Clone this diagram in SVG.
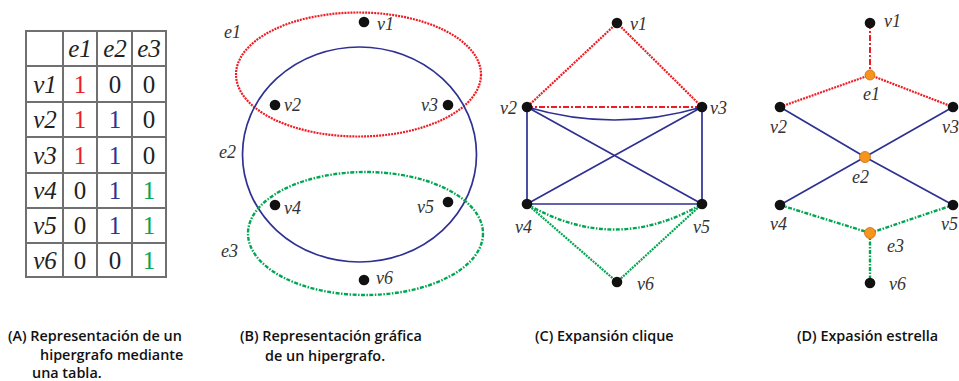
<svg xmlns="http://www.w3.org/2000/svg" width="959" height="381" viewBox="0 0 959 381">
<style>
.tbl{fill:none;stroke:#707070;stroke-width:2}
.lab{font-family:"Liberation Serif",serif;font-style:italic;font-size:18px;fill:#333}
.tl{font-family:"Liberation Serif",serif;font-style:italic;font-size:25px;fill:#222;text-anchor:middle}
.tn{font-family:"Liberation Serif",serif;font-size:25px;fill:#222;text-anchor:middle}
.cap{font-family:"Open Sans",sans-serif;font-weight:600;font-size:14.4px;fill:#111}
.red{fill:none;stroke:#ee1c24;stroke-width:2.2;stroke-dasharray:2 1}
.redd{fill:none;stroke:#ee1c24;stroke-width:2;stroke-dasharray:6 2 2 2}
.blue{fill:none;stroke:#2e3192;stroke-width:1.7}
.grn{fill:none;stroke:#00a651;stroke-width:2.4;stroke-dasharray:4 1.5 1.5 1.5}
.grnd{fill:none;stroke:#00a651;stroke-width:2.2;stroke-dasharray:2 1}
.v{fill:#111}
.e{fill:#f7941d;stroke:#c87010;stroke-width:0.8}
</style>

<g id="table">
<rect class="tbl" x="26" y="31" width="140" height="246"/>
<path class="tbl" d="M63 31V277M97 31V277M132 31V277M26 66H166M26 102H166M26 137H166M26 173H166M26 208H166M26 243H166"/>
<text class="tl" x="80" y="57">e1</text><text class="tl" x="115" y="57">e2</text><text class="tl" x="149" y="57">e3</text>
<text class="tl" x="45" y="93">v1</text><text class="tl" x="45" y="128">v2</text><text class="tl" x="45" y="164">v3</text>
<text class="tl" x="45" y="199">v4</text><text class="tl" x="45" y="234">v5</text><text class="tl" x="45" y="269">v6</text>
<text class="tn" x="80" y="93" style="fill:#ee1c24">1</text><text class="tn" x="115" y="93">0</text><text class="tn" x="149" y="93">0</text>
<text class="tn" x="80" y="128" style="fill:#ee1c24">1</text><text class="tn" x="115" y="128" style="fill:#2e3192">1</text><text class="tn" x="149" y="128">0</text>
<text class="tn" x="80" y="164" style="fill:#ee1c24">1</text><text class="tn" x="115" y="164" style="fill:#2e3192">1</text><text class="tn" x="149" y="164">0</text>
<text class="tn" x="80" y="199">0</text><text class="tn" x="115" y="199" style="fill:#2e3192">1</text><text class="tn" x="149" y="199" style="fill:#00a651">1</text>
<text class="tn" x="80" y="234">0</text><text class="tn" x="115" y="234" style="fill:#2e3192">1</text><text class="tn" x="149" y="234" style="fill:#00a651">1</text>
<text class="tn" x="80" y="269">0</text><text class="tn" x="115" y="269">0</text><text class="tn" x="149" y="269" style="fill:#00a651">1</text>
</g>

<g id="panelB">
<g id="B-edges">
<ellipse class="red" cx="358.5" cy="74.5" rx="122.5" ry="62"/>
<ellipse class="blue" cx="359.5" cy="154.5" rx="117" ry="107.5"/>
<ellipse class="grn" cx="365.5" cy="233.5" rx="117.5" ry="61.5"/>
<text class="lab" x="224" y="38">e1</text>
<text class="lab" x="219" y="158">e2</text>
<text class="lab" x="221" y="257">e3</text>
</g>
<g id="B-v1"><circle class="v" cx="364" cy="22" r="5.3"/><text class="lab" x="377" y="30">v1</text></g>
<g id="B-v2"><circle class="v" cx="275" cy="105" r="5.3"/><text class="lab" x="284" y="111">v2</text></g>
<g id="B-v3"><circle class="v" cx="448" cy="105" r="5.3"/><text class="lab" x="421" y="111">v3</text></g>
<g id="B-v4"><circle class="v" cx="275" cy="205" r="5.3"/><text class="lab" x="284" y="214">v4</text></g>
<g id="B-v5"><circle class="v" cx="448" cy="202" r="5.3"/><text class="lab" x="417" y="213">v5</text></g>
<g id="B-v6"><circle class="v" cx="364" cy="280" r="5.3"/><text class="lab" x="376" y="284">v6</text></g>
</g>

<g id="C-edges">
<path class="red" d="M617 23L527 107M617 23L702 107"/>
<path class="redd" d="M527 107H702"/>
<path class="blue" d="M527 107Q614.5 133 702 107M527 107V204M702 107V204M527 107L702 204M702 107L527 204M527 204H702"/>
<path class="grn" d="M527 204Q614.5 255 702 204"/>
<path class="grnd" d="M527 204L617 282M702 204L617 282"/>
</g>
<g id="C-v1"><circle class="v" cx="617" cy="23" r="5.3"/><text class="lab" x="630" y="30">v1</text></g>
<g id="C-v2"><circle class="v" cx="527" cy="107" r="5.3"/><text class="lab" x="500" y="114">v2</text></g>
<g id="C-v3"><circle class="v" cx="702" cy="107" r="5.3"/><text class="lab" x="710" y="114">v3</text></g>
<g id="C-v4"><circle class="v" cx="527" cy="204" r="5.3"/><text class="lab" x="515" y="233">v4</text></g>
<g id="C-v5"><circle class="v" cx="702" cy="204" r="5.3"/><text class="lab" x="693" y="233">v5</text></g>
<g id="C-v6"><circle class="v" cx="617" cy="282" r="5.3"/><text class="lab" x="637" y="290">v6</text></g>

<g id="D-edges">
<path class="redd" d="M870 23V75"/>
<path class="red" d="M870 75L780 107M870 75L953 107"/>
<path class="blue" d="M780 107L865 157L953 205M953 107L865 157L780 205"/>
<path class="grn" d="M780 205L870 233L953 205M870 233V283"/>
</g>
<g id="D-v1"><circle class="v" cx="870" cy="23" r="5.3"/><text class="lab" x="884" y="27">v1</text></g>
<g id="D-e1"><circle class="e" cx="870" cy="75" r="5"/><text class="lab" x="863" y="100">e1</text></g>
<g id="D-v2"><circle class="v" cx="780" cy="107" r="5.3"/><text class="lab" x="770" y="133">v2</text></g>
<g id="D-v3"><circle class="v" cx="953" cy="107" r="5.3"/><text class="lab" x="942" y="133">v3</text></g>
<g id="D-e2"><circle class="e" cx="865" cy="157" r="5.5"/><text class="lab" x="852" y="183">e2</text></g>
<g id="D-v4"><circle class="v" cx="780" cy="205" r="5.3"/><text class="lab" x="770" y="230">v4</text></g>
<g id="D-v5"><circle class="v" cx="953" cy="205" r="5.3"/><text class="lab" x="941" y="230">v5</text></g>
<g id="D-e3"><circle class="e" cx="870" cy="233" r="5.5"/><text class="lab" x="887" y="252">e3</text></g>
<g id="D-v6"><circle class="v" cx="870" cy="283" r="5.3"/><text class="lab" x="889" y="290">v6</text></g>

<g id="captions">
<text class="cap" x="8" y="341">(A) Representación de un<tspan x="40" dy="19">hipergrafo mediante</tspan><tspan x="32" dy="18">una tabla.</tspan></text>
<text class="cap" x="240" y="341">(B) Representación gráfica<tspan x="265" dy="19.5">de un hipergrafo.</tspan></text>
<text class="cap" x="535" y="341">(C) Expansión clique</text>
<text class="cap" x="797" y="341">(D) Expasión estrella</text>
</g>
</svg>
